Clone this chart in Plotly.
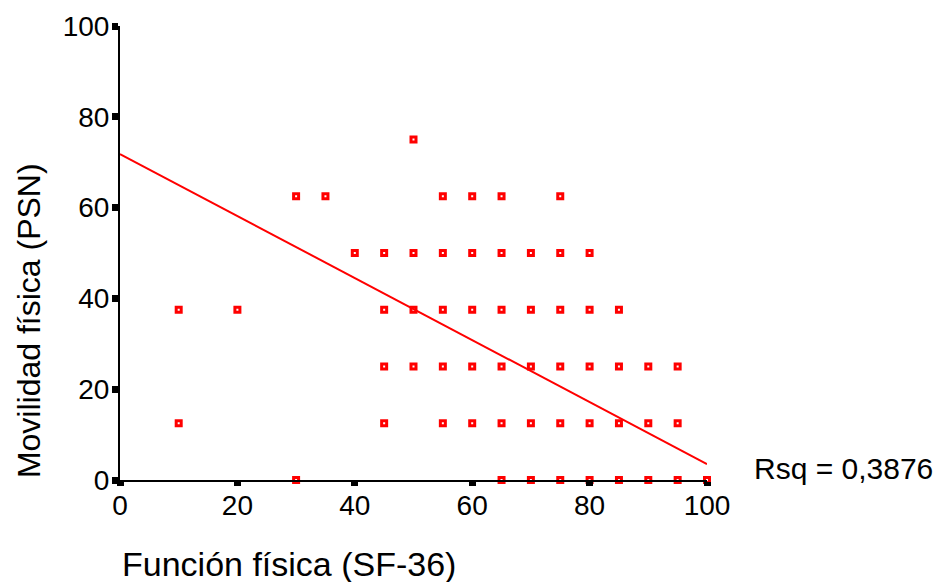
import plotly.graph_objects as go

# Data (Función física vs Movilidad física)
x_vals = [50,
          30, 35, 55, 60, 65, 75,
          40, 45, 50, 55, 60, 65, 70, 75, 80,
          10, 20, 45, 50, 55, 60, 65, 70, 75, 80, 85,
          45, 50, 55, 60, 65, 70, 75, 80, 85, 90, 95,
          10, 45, 55, 60, 65, 70, 75, 80, 85, 90, 95,
          30, 65, 70, 75, 80, 85, 90, 95, 100]
y_vals = [75,
          62.5, 62.5, 62.5, 62.5, 62.5, 62.5,
          50, 50, 50, 50, 50, 50, 50, 50, 50,
          37.5, 37.5, 37.5, 37.5, 37.5, 37.5, 37.5, 37.5, 37.5, 37.5, 37.5,
          25, 25, 25, 25, 25, 25, 25, 25, 25, 25, 25,
          12.5, 12.5, 12.5, 12.5, 12.5, 12.5, 12.5, 12.5, 12.5, 12.5, 12.5,
          0, 0, 0, 0, 0, 0, 0, 0, 0]

fit_intercept = 71.8
fit_slope = -0.683
fit_x = [0, 100]
fit_y = [fit_intercept + fit_slope * v for v in fit_x]
rsq_label = "Rsq = 0,3876"

tick_vals = [0, 20, 40, 60, 80, 100]

fig = go.Figure()
fig.add_trace(go.Scatter(
    x=fit_x, y=fit_y, mode="lines",
    line=dict(color="#ff0000", width=2),
    hoverinfo="skip", cliponaxis=False))
fig.add_trace(go.Scatter(
    x=x_vals, y=y_vals, mode="markers",
    marker=dict(symbol="square-open", size=5, color="#ff0000",
                line=dict(color="#ff0000", width=3)),
    cliponaxis=False))

fam = "Liberation Sans, Arial, sans-serif"
font = dict(family=fam, size=28, color="#000000")

fig.update_layout(
    width=937, height=582,
    margin=dict(l=120, r=230, t=26, b=102),
    paper_bgcolor="white", plot_bgcolor="white",
    showlegend=False,
    font=font,
    xaxis=dict(range=[0, 100], tickvals=tick_vals, showgrid=False, zeroline=False,
               showline=True, linecolor="black", linewidth=2,
               ticks="outside", ticklen=4, tickwidth=7, tickcolor="black",
               tickfont=font, ticklabelstandoff=-5),
    yaxis=dict(range=[0, 100], tickvals=tick_vals, showgrid=False, zeroline=False,
               showline=True, linecolor="black", linewidth=2,
               ticks="outside", ticklen=6, tickwidth=7, tickcolor="black",
               tickfont=font, ticklabelstandoff=-3),
    annotations=[
        dict(text=rsq_label, xref="paper", yref="y", x=1.077, y=2.6,
             xanchor="left", yanchor="middle", showarrow=False,
             font=dict(family=fam, size=30, color="black")),
        dict(text="Función física (SF-36)", xref="paper", yref="paper",
             x=0.0, y=-0.185, xanchor="left", yanchor="middle", showarrow=False,
             font=dict(family=fam, size=34, color="black")),
        dict(text="Movilidad física (PSN)", xref="paper", yref="paper",
             x=-0.155, y=0.35, xanchor="center", yanchor="middle", textangle=-90,
             showarrow=False,
             font=dict(family=fam, size=32, color="black")),
    ],
)

fig.write_html("out.html")
